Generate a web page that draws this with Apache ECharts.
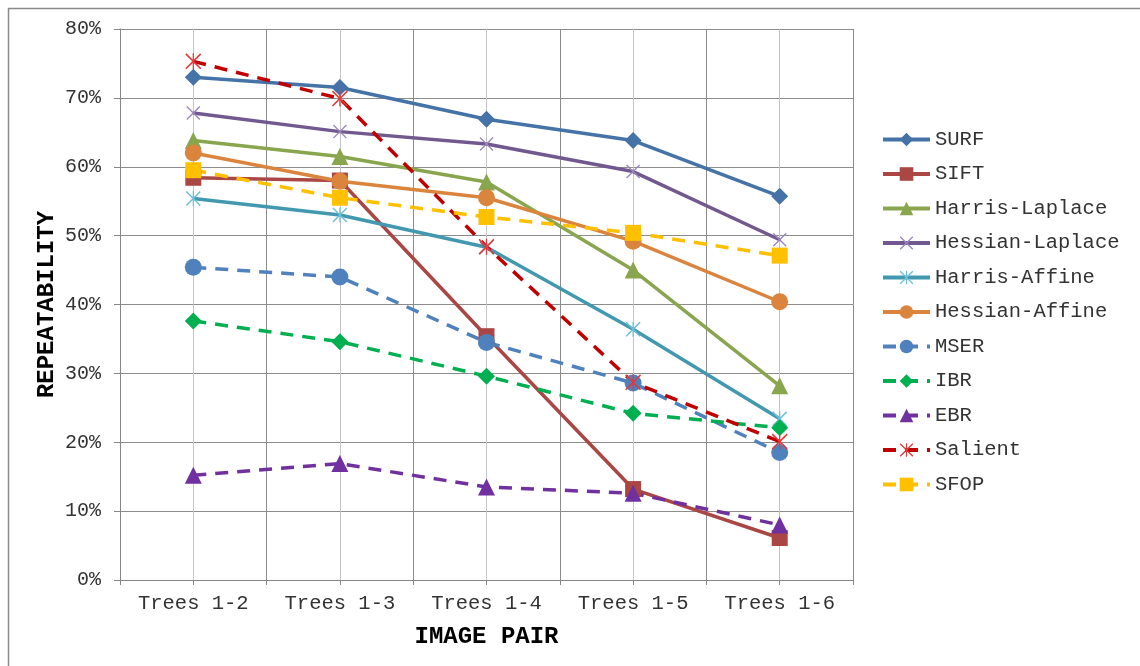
<!DOCTYPE html>
<html>
<head>
<meta charset="utf-8">
<script src="https://cdn.jsdelivr.net/npm/echarts@6/dist/echarts.min.js"></script>
<style>
html,body{margin:0;padding:0;background:#fff;}
#chart{width:1140px;height:666px;}
</style>
</head>
<body>
<div id="chart"></div>
<script>
const categories = ['Trees 1-2', 'Trees 1-3', 'Trees 1-4', 'Trees 1-5', 'Trees 1-6'];
const yTicks = [0, 0.1, 0.2, 0.3, 0.4, 0.5, 0.6, 0.7, 0.8];

const surf           = [0.730, 0.715, 0.669, 0.638, 0.557];
const sift           = [0.584, 0.580, 0.354, 0.132, 0.061];
const harrisLaplace  = [0.638, 0.615, 0.578, 0.450, 0.282];
const hessianLaplace = [0.678, 0.651, 0.633, 0.593, 0.494];
const harrisAffine   = [0.554, 0.530, 0.483, 0.364, 0.234];
const hessianAffine  = [0.620, 0.579, 0.555, 0.492, 0.404];
const mser           = [0.454, 0.440, 0.345, 0.286, 0.185];
const ibr            = [0.376, 0.346, 0.296, 0.242, 0.221];
const ebr            = [0.152, 0.169, 0.135, 0.126, 0.080];
const salient        = [0.753, 0.699, 0.484, 0.287, 0.201];
const sfop           = [0.595, 0.555, 0.527, 0.504, 0.471];

const X_PATH = 'path://M0,1.4L1.4,0L20,18.6L18.6,20Z M18.6,0L20,1.4L1.4,20L0,18.6Z';
const STAR_PATH = 'path://M0,1.4L1.4,0L20,18.6L18.6,20Z M18.6,0L20,1.4L1.4,20L0,18.6Z M9.2,0L10.8,0L10.8,20L9.2,20Z';

const MONO = '"Liberation Mono", "Courier New", monospace';
const DASH = [13, 9];

function mk(name, data, color, symbol, size, dashed, markColor) {
  return {
    name: name,
    type: 'line',
    data: data,
    xAxisIndex: 0,
    symbol: symbol,
    symbolSize: size,
    showAllSymbol: true,
    lineStyle: { color: color, width: 3.5, type: dashed ? DASH : 'solid' },
    itemStyle: { color: markColor || color, borderWidth: 0 },
    emphasis: { disabled: true },
    animation: false
  };
}

const series = [
  mk('SURF', surf, '#4572A7', 'diamond', 17, false),
  mk('SIFT', sift, '#AA4643', 'rect', 16, false),
  mk('Harris-Laplace', harrisLaplace, '#89A54E', 'triangle', 17, false),
  mk('Hessian-Laplace', hessianLaplace, '#71588F', X_PATH, 14, false, '#9C88BA'),
  mk('Harris-Affine', harrisAffine, '#4198AF', STAR_PATH, 15, false, '#6CC0D8'),
  mk('Hessian-Affine', hessianAffine, '#DB843D', 'circle', 17, false),
  mk('MSER', mser, '#4F81BD', 'circle', 17, true),
  mk('IBR', ibr, '#00B050', 'diamond', 17, true),
  mk('EBR', ebr, '#7030A0', 'triangle', 17, true),
  mk('Salient', salient, '#C00000', STAR_PATH, 16, true, '#E03A3A'),
  mk('SFOP', sfop, '#FFC000', 'rect', 16, true)
];

const chart = echarts.init(document.getElementById('chart'), null, { renderer: 'canvas' });
chart.setOption({
  backgroundColor: '#fff',
  animation: false,
  graphic: [{
    type: 'rect',
    shape: { x: 8.5, y: 8.5, width: 1300, height: 800 },
    style: { fill: 'none', stroke: '#8a8a8a', lineWidth: 1.5 },
    silent: true,
    z: -10
  }],
  grid: { left: 120, top: 29, right: 287, bottom: 86 },
  legend: {
    orient: 'vertical',
    left: 876,
    top: 124,
    itemWidth: 47,
    itemHeight: 17,
    itemGap: 13.5,
    lineStyle: { width: 4 },
    textStyle: { fontFamily: MONO, fontSize: 20.5, color: '#333', lineHeight: 19 },
    data: series.map(s => s.name)
  },
  xAxis: [{
    type: 'category',
    data: categories,
    boundaryGap: true,
    position: 'bottom',
    axisLine: { show: true, lineStyle: { color: '#868686', width: 1 } },
    axisTick: { show: false },
    splitLine: { show: false },
    axisLabel: { fontFamily: MONO, fontSize: 20.5, color: '#333', margin: 13, interval: 0 },
    name: 'IMAGE PAIR',
    nameLocation: 'middle',
    nameGap: 45,
    nameMoveOverlap: false,
    nameTextStyle: { fontFamily: MONO, fontSize: 24, fontWeight: 'bold', color: '#000' }
  }, {
    type: 'value',
    min: 0,
    max: 10,
    interval: 1,
    position: 'bottom',
    axisLine: { show: false },
    axisLabel: { show: false },
    axisTick: { show: true, length: 5, lineStyle: { color: '#868686' } },
    splitLine: { show: true, lineStyle: { color: ['#8c8c8c', '#c4c4c4'], width: 1 } }
  }],
  yAxis: {
    type: 'value',
    min: 0,
    max: 0.8,
    interval: 0.1,
    axisLine: { show: true, lineStyle: { color: '#868686' } },
    axisTick: { show: true, length: 6, lineStyle: { color: '#868686' } },
    splitLine: { show: true, lineStyle: { color: '#8c8c8c', width: 1 } },
    axisLabel: {
      fontFamily: MONO, fontSize: 20, color: '#333', margin: 19,
      formatter: v => Math.round(v * 100) + '%'
    },
    name: 'REPEATABILITY',
    nameLocation: 'middle',
    nameGap: 61,
    nameRotate: 90,
    nameMoveOverlap: false,
    nameTextStyle: { fontFamily: MONO, fontSize: 24, fontWeight: 'bold', color: '#000' }
  },
  series: series
});
</script>
</body>
</html>
